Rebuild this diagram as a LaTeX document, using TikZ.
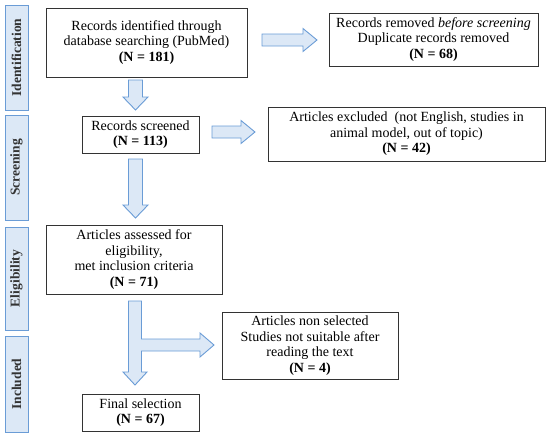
\documentclass[tikz,border=0pt]{standalone}
\usepackage{fontspec}
\setmainfont{Liberation Serif}
\definecolor{afill}{HTML}{DCE8F6}
\definecolor{aline}{HTML}{6A9CD6}
\definecolor{bline}{HTML}{333333}
\begin{document}
\begin{tikzpicture}[x=1pt,y=-1pt,
  box/.style={draw=bline,line width=0.9pt,align=center,inner sep=0pt,font=\fontsize{14}{15.5}\selectfont},
  side/.style={draw=aline,fill=afill,line width=0.9pt,inner sep=0pt},
  sidetxt/.style={rotate=90,font=\fontsize{13.5}{15}\selectfont\bfseries,text=bline},
  barrow/.style={draw=aline,fill=afill,line width=0.9pt,line join=miter}]
\useasboundingbox (0,0) rectangle (550,437);
\newcommand{\boxat}[6]{% name, x1,y1,x2,y2, text
  \node[box,minimum width={#4-#2},minimum height={#5-#3}] (#1) at ({(#2+#4)/2},{(#3+#5)/2}) {#6};}
\newcommand{\sideat}[4]{% name, y1, y2, text
  \node[side,minimum width=23,minimum height={#3-#2}] (#1) at (16.5,{(#2+#3)/2}) {};
  \node[sidetxt] (#1t) at (#1.center) {#4};}
\newcommand{\downarr}[3]{% x, ytop, ybottom
  \draw[barrow] (#1-7,#2) -- (#1+7,#2) -- (#1+7,#3-13) -- (#1+12.5,#3-13) -- (#1,#3) -- (#1-12.5,#3-13) -- (#1-7,#3-13) -- cycle;}
\newcommand{\rightarr}[3]{% y, xleft, xright
  \draw[barrow] (#2,#1-6) -- (#3-14,#1-6) -- (#3-14,#1-11.5) -- (#3,#1) -- (#3-14,#1+11.5) -- (#3-14,#1+6) -- (#2,#1+6) -- cycle;}

\sideat{s1}{5}{110}{Identification}
\sideat{s2}{115}{220}{Screening}
\sideat{s3}{227}{330}{Eligibility}
\sideat{s4}{336}{432}{Included}

\boxat{b1}{46}{8}{247}{77}{Records identified through\\database searching (PubMed)\\\textbf{(N = 181)}}
\boxat{b2}{329}{13}{538}{66}{Records removed \textit{before screening}\\Duplicate records removed\\\textbf{(N = 68)}}
\boxat{b3}{82}{116}{199}{153}{Records screened\\\textbf{(N = 113)}}
\boxat{b4}{268}{107}{545}{161}{Articles excluded\ \ (not English, studies in\\animal model, out of topic)\\\textbf{(N = 42)}}
\boxat{b5}{46}{225}{222}{294}{Articles assessed for\\eligibility,\\met inclusion criteria\\\textbf{(N = 71)}}
\boxat{b6}{222}{312}{398}{379}{Articles non selected\\Studies not suitable after\\reading the text\\\textbf{(N = 4)}}
\boxat{b7}{82}{394}{199}{431}{Final selection\\\textbf{(N = 67)}}

\downarr{135.5}{80}{110}
\rightarr{40}{262}{317}
\rightarr{132}{212}{255}
\downarr{135.5}{159}{218}
% branching arrow
\draw[barrow] (128.5,301) -- (141.5,301) -- (141.5,339) -- (200,339) -- (200,333) -- (214,345) -- (200,357) -- (200,351) -- (141.5,351) -- (141.5,372) -- (147,372) -- (135,385) -- (123,372) -- (128.5,372) -- cycle;
\end{tikzpicture}
\end{document}
